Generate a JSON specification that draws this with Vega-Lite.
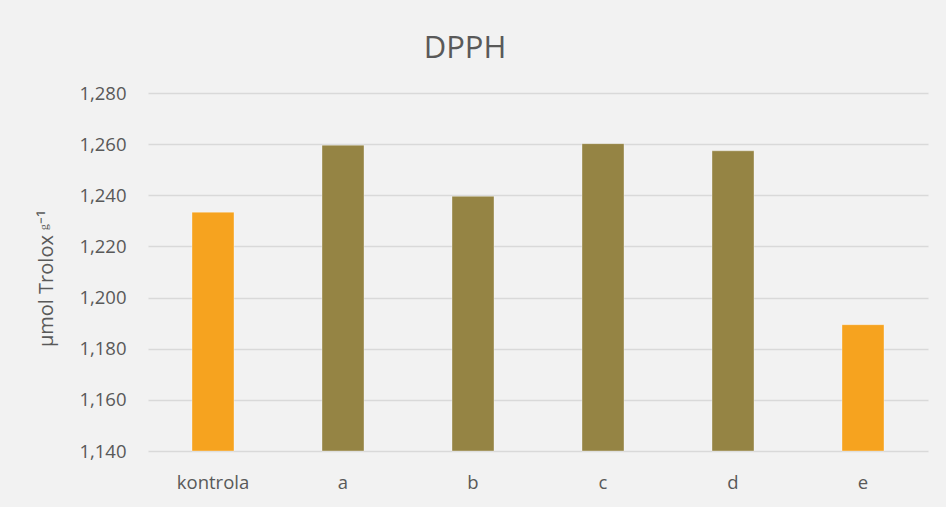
{
  "$schema": "https://vega.github.io/schema/vega-lite/v6.json",
  "width": 780,
  "height": 358,
  "autosize": {"type": "none"},
  "padding": {"left": 148, "top": 93, "right": 18, "bottom": 56},
  "background": "#f2f2f2",
  "title": {
    "text": "DPPH",
    "anchor": "middle",
    "frame": "group",
    "dx": -73,
    "offset": 19,
    "fontSize": 31,
    "font": "Open Sans",
    "fontWeight": "normal",
    "color": "#595959"
  },
  "data": {
    "values": [
      {"sample": "kontrola", "value": 1233.4, "group": "orange"},
      {"sample": "a", "value": 1259.6, "group": "olive"},
      {"sample": "b", "value": 1239.6, "group": "olive"},
      {"sample": "c", "value": 1260.2, "group": "olive"},
      {"sample": "d", "value": 1257.4, "group": "olive"},
      {"sample": "e", "value": 1189.4, "group": "orange"}
    ]
  },
  "mark": {"type": "bar", "stroke": "#ffffff", "strokeOpacity": 0.35, "strokeWidth": 1},
  "encoding": {
    "x": {
      "field": "sample",
      "type": "nominal",
      "sort": null,
      "scale": {"paddingInner": 0.677, "paddingOuter": 0.3385},
      "axis": {
        "title": null,
        "labelAngle": 0,
        "ticks": false,
        "domain": false,
        "labelPadding": 22,
        "labelFontSize": 18.5,
        "labelFont": "Open Sans",
        "labelColor": "#595959"
      }
    },
    "y": {
      "field": "value",
      "type": "quantitative",
      "scale": {"domain": [1140, 1280], "nice": false, "zero": false},
      "axis": {
        "title": "μmol Trolox ᵍ⁻¹",
        "titleFont": "Open Sans",
        "titleFontSize": 20,
        "titleFontWeight": "normal",
        "titleColor": "#595959",
        "titlePadding": 22,
        "titleY": 185,
        "values": [1140, 1160, 1180, 1200, 1220, 1240, 1260, 1280],
        "format": ",d",
        "ticks": false,
        "domain": false,
        "labelPadding": 22,
        "labelFontSize": 18.5,
        "labelFont": "Open Sans",
        "labelColor": "#595959",
        "gridColor": "#d9d9d9",
        "gridWidth": 1.5
      }
    },
    "y2": {"datum": 1140},
    "color": {
      "field": "group",
      "type": "nominal",
      "scale": {"domain": ["orange", "olive"], "range": ["#f6a31f", "#958444"]},
      "legend": null
    }
  },
  "config": {"view": {"stroke": null}}
}
